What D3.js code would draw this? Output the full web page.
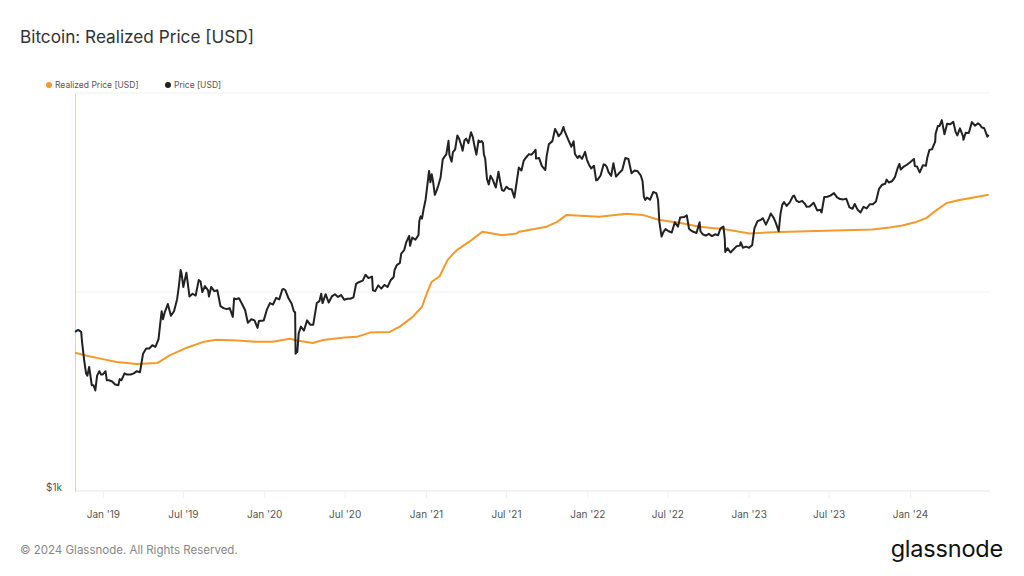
<!DOCTYPE html>
<html><head><meta charset="utf-8">
<script src="https://cdn.jsdelivr.net/npm/d3@7"></script>
<style>
html,body{margin:0;padding:0;background:#fff;}
svg{display:block;font-family:Inter,"Noto Sans",sans-serif;}
</style></head>
<body>
<svg id="c" width="1024" height="576"></svg>
<script>
const title = "Bitcoin: Realized Price [USD]";
const seriesNames = ["Realized Price [USD]", "Price [USD]"];
const yTickValues = [1000];
const yTickLabels = ["$1k"];
const xTickDates = ["2019-01-01","2019-07-01","2020-01-01","2020-07-01","2021-01-01","2021-07-01","2022-01-01","2022-07-01","2023-01-01","2023-07-01","2024-01-01"];
const xTickLabels = ["Jan '19","Jul '19","Jan '20","Jul '20","Jan '21","Jul '21","Jan '22","Jul '22","Jan '23","Jul '23","Jan '24"];
const xDomain = ["2018-10-30","2024-06-30"];
const yDomain = [1000, 100000];

const realizedData = [
["2018-10-30",4950],["2018-12-01",4750],["2019-01-01",4600],["2019-02-01",4450],["2019-03-19",4350],
["2019-05-05",4400],["2019-06-01",4800],["2019-07-10",5250],["2019-08-15",5600],["2019-09-15",5750],
["2019-11-01",5700],["2019-12-15",5620],["2020-01-20",5620],["2020-02-28",5820],["2020-03-15",5700],
["2020-04-20",5540],["2020-05-13",5740],["2020-07-01",5900],["2020-07-29",5950],["2020-08-27",6250],
["2020-10-11",6300],["2020-11-03",6700],["2020-12-02",7500],["2020-12-23",8430],["2021-01-03",9870],
["2021-01-14",11260],["2021-02-01",12000],["2021-02-19",14500],["2021-03-11",16200],["2021-04-09",17900],
["2021-05-09",20100],["2021-05-25",19800],["2021-06-23",19300],["2021-07-25",19700],["2021-07-31",20100],
["2021-10-01",21300],["2021-10-25",22500],["2021-11-15",24400],["2022-01-28",23900],["2022-03-31",24700],
["2022-05-06",24400],["2022-06-13",23000],["2022-07-28",22300],["2022-09-12",21300],["2022-11-12",20600],
["2023-01-03",19700],["2023-03-12",20000],["2023-06-25",20300],["2023-10-08",20600],["2023-11-16",21100],
["2023-12-15",21600],["2024-01-15",22500],["2024-02-07",23500],["2024-03-01",25800],["2024-03-24",28000],
["2024-04-22",29000],["2024-05-30",30000],["2024-06-27",30800]
];

const priceData = [
["2018-10-30",6300],["2018-11-06",6450],["2018-11-13",6300],["2018-11-15",5600],["2018-11-20",4500],["2018-11-24",3900],["2018-11-27",3800],
["2018-12-01",4200],["2018-12-07",3400],["2018-12-11",3400],["2018-12-15",3200],["2018-12-19",3800],["2018-12-24",4000],["2018-12-28",3850],
["2019-01-01",3850],["2019-01-07",4000],["2019-01-10",3600],["2019-01-15",3600],["2019-01-22",3550],["2019-01-29",3430],["2019-02-05",3400],
["2019-02-08",3650],["2019-02-12",3600],["2019-02-19",3900],["2019-02-24",3850],["2019-03-05",3850],["2019-03-12",3900],["2019-03-19",4000],
["2019-03-26",3950],["2019-04-02",4900],["2019-04-09",5200],["2019-04-16",5200],["2019-04-23",5400],["2019-04-30",5300],["2019-05-07",5800],
["2019-05-11",7000],["2019-05-14",8000],["2019-05-17",7300],["2019-05-21",7900],["2019-05-28",8700],["2019-06-04",7600],["2019-06-11",8000],
["2019-06-18",9200],["2019-06-22",10700],["2019-06-26",12900],["2019-06-28",12400],["2019-07-02",10600],["2019-07-09",12500],["2019-07-16",9500],
["2019-07-23",9800],["2019-07-30",9600],["2019-08-06",11500],["2019-08-10",11300],["2019-08-14",10000],["2019-08-20",10700],["2019-08-27",10200],
["2019-08-29",9500],["2019-09-03",10600],["2019-09-10",10100],["2019-09-17",10200],["2019-09-24",8500],["2019-10-01",8300],["2019-10-08",8200],
["2019-10-15",8300],["2019-10-22",7500],["2019-10-25",9300],["2019-10-29",9200],["2019-11-05",9300],["2019-11-12",8700],["2019-11-19",8100],
["2019-11-25",7000],["2019-12-03",7300],["2019-12-10",7200],["2019-12-17",6600],["2019-12-20",7150],["2019-12-31",7200],
["2020-01-07",8150],["2020-01-14",8800],["2020-01-21",8650],["2020-01-28",9350],["2020-02-04",9180],["2020-02-11",10300],["2020-02-14",10350],
["2020-02-18",10200],["2020-02-25",9300],["2020-03-03",8750],["2020-03-08",8000],["2020-03-11",7900],["2020-03-12",4900],["2020-03-16",5000],
["2020-03-19",6200],["2020-03-24",6700],["2020-03-31",6400],["2020-04-07",7200],["2020-04-14",6850],["2020-04-21",6850],["2020-04-29",8800],
["2020-05-05",9000],["2020-05-09",9800],["2020-05-12",8800],["2020-05-19",9750],["2020-05-26",8850],["2020-06-02",9500],["2020-06-09",9750],
["2020-06-16",9450],["2020-06-23",9650],["2020-06-30",9150],["2020-07-07",9250],["2020-07-14",9250],["2020-07-21",9400],["2020-07-27",11000],
["2020-08-02",11200],["2020-08-11",11400],["2020-08-17",12200],["2020-08-24",11750],["2020-09-01",11950],["2020-09-03",10200],["2020-09-08",10100],
["2020-09-15",10800],["2020-09-22",10400],["2020-09-29",10850],["2020-10-06",10600],["2020-10-13",11450],["2020-10-20",11900],["2020-10-22",12900],
["2020-10-27",13650],["2020-11-03",14000],["2020-11-06",15600],["2020-11-13",16300],["2020-11-17",17700],["2020-11-24",19150],["2020-11-26",17100],
["2020-12-01",18800],["2020-12-08",18300],["2020-12-15",19300],["2020-12-17",22800],["2020-12-20",24000],["2020-12-23",23400],["2020-12-27",26300],
["2020-12-31",29000],["2021-01-03",32800],["2021-01-08",40600],["2021-01-11",35600],["2021-01-14",39100],["2021-01-17",36000],["2021-01-21",30800],
["2021-01-25",32300],["2021-01-29",34300],["2021-02-03",37600],["2021-02-08",46400],["2021-02-12",47900],["2021-02-16",49200],["2021-02-21",57500],
["2021-02-23",48800],["2021-02-28",45200],["2021-03-03",50500],["2021-03-08",52000],["2021-03-13",61200],["2021-03-17",58900],["2021-03-22",54500],
["2021-03-25",51300],["2021-03-29",57700],["2021-04-02",59000],["2021-04-07",56000],["2021-04-13",63500],["2021-04-17",60000],["2021-04-21",53800],
["2021-04-25",49000],["2021-04-30",57800],["2021-05-03",56600],["2021-05-07",57400],["2021-05-10",56000],["2021-05-12",49200],["2021-05-15",46700],
["2021-05-19",37000],["2021-05-23",34700],["2021-05-27",38400],["2021-06-01",36700],["2021-06-08",33500],["2021-06-14",40200],["2021-06-18",35800],
["2021-06-22",32500],["2021-06-26",32200],["2021-07-02",33800],["2021-07-08",32900],["2021-07-14",32800],["2021-07-20",29800],["2021-07-25",35400],
["2021-07-30",42200],["2021-08-05",40800],["2021-08-10",45600],["2021-08-14",47000],["2021-08-22",49300],["2021-08-28",49000],["2021-09-06",51800],
["2021-09-07",46800],["2021-09-14",47100],["2021-09-20",43000],["2021-09-28",41000],["2021-10-01",48200],["2021-10-06",55300],["2021-10-14",57300],
["2021-10-20",65900],["2021-10-25",63000],["2021-10-28",60600],["2021-11-03",62900],["2021-11-08",67500],["2021-11-10",64900],["2021-11-16",60300],
["2021-11-19",58100],["2021-11-26",53700],["2021-12-01",57200],["2021-12-04",49400],["2021-12-10",47100],["2021-12-14",48400],["2021-12-20",46700],
["2021-12-27",50600],["2021-12-31",46300],["2022-01-05",43500],["2022-01-10",41800],["2022-01-16",43100],["2022-01-21",36400],["2022-01-24",36600],
["2022-01-31",38500],["2022-02-07",43800],["2022-02-10",43600],["2022-02-14",42500],["2022-02-18",40000],["2022-02-24",38300],["2022-03-01",44400],
["2022-03-07",38000],["2022-03-14",39600],["2022-03-21",41000],["2022-03-28",47100],["2022-04-04",46600],["2022-04-11",39500],["2022-04-18",40800],
["2022-04-25",40400],["2022-05-02",38500],["2022-05-06",36000],["2022-05-09",30100],["2022-05-12",29000],["2022-05-16",29800],["2022-05-23",29100],
["2022-05-30",31800],["2022-06-06",31400],["2022-06-10",29100],["2022-06-13",22500],["2022-06-18",19000],["2022-06-22",20000],["2022-06-27",20700],
["2022-07-04",20200],["2022-07-11",19900],["2022-07-18",22400],["2022-07-25",21300],["2022-07-30",23700],["2022-08-08",23800],["2022-08-14",24300],
["2022-08-19",20800],["2022-08-26",20200],["2022-09-05",19800],["2022-09-12",22400],["2022-09-14",20200],["2022-09-19",19500],["2022-09-26",19200],
["2022-10-03",19600],["2022-10-10",19100],["2022-10-17",19500],["2022-10-24",19300],["2022-10-29",20800],["2022-11-05",21300],["2022-11-08",18500],
["2022-11-09",15900],["2022-11-14",16600],["2022-11-21",15800],["2022-11-28",16400],["2022-12-05",17000],["2022-12-12",17100],["2022-12-14",17800],
["2022-12-19",16700],["2022-12-26",16900],["2023-01-02",16700],["2023-01-09",17200],["2023-01-14",20900],["2023-01-21",22700],["2023-01-28",23000],
["2023-02-02",23500],["2023-02-09",21800],["2023-02-16",23500],["2023-02-20",24800],["2023-02-27",23500],["2023-03-03",22400],["2023-03-10",20200],
["2023-03-14",24700],["2023-03-18",27400],["2023-03-22",28300],["2023-03-28",27100],["2023-04-04",28200],["2023-04-11",30300],["2023-04-14",30500],
["2023-04-19",28800],["2023-04-25",28300],["2023-05-02",28700],["2023-05-09",27600],["2023-05-12",26800],["2023-05-19",26900],["2023-05-28",28100],
["2023-06-05",25700],["2023-06-12",25900],["2023-06-15",25100],["2023-06-21",30000],["2023-06-28",30100],["2023-07-05",30500],["2023-07-13",31400],
["2023-07-20",29900],["2023-07-27",29300],["2023-08-03",29200],["2023-08-10",29400],["2023-08-17",26600],["2023-08-24",26200],["2023-08-29",27700],
["2023-09-05",25800],["2023-09-11",25100],["2023-09-18",26800],["2023-09-25",26300],["2023-10-02",27600],["2023-10-09",27600],["2023-10-16",28500],
["2023-10-23",33000],["2023-10-30",34600],["2023-11-06",35000],["2023-11-09",36700],["2023-11-14",35500],["2023-11-21",36000],["2023-11-28",37800],
["2023-12-04",41900],["2023-12-08",44000],["2023-12-11",41200],["2023-12-18",42700],["2023-12-25",43600],["2024-01-02",45000],["2024-01-10",46600],
["2024-01-12",42900],["2024-01-17",42700],["2024-01-23",39900],["2024-01-30",43300],["2024-02-06",43100],["2024-02-09",47100],["2024-02-14",51800],
["2024-02-20",52200],["2024-02-27",57000],["2024-02-28",62500],["2024-03-04",68300],["2024-03-08",68300],["2024-03-13",73100],["2024-03-19",62000],
["2024-03-25",70000],["2024-04-01",69600],["2024-04-08",71600],["2024-04-13",64000],["2024-04-17",61200],["2024-04-23",66400],["2024-04-30",60600],
["2024-05-01",58200],["2024-05-06",63100],["2024-05-13",62900],["2024-05-20",71400],["2024-05-27",68500],["2024-06-03",70500],["2024-06-07",69300],
["2024-06-11",67300],["2024-06-17",66500],["2024-06-24",60300],["2024-06-27",61600]
];

const colors = {realized:"#f39a2b", price:"#222222"};

const svg = d3.select("#c");
const parse = d3.utcParse("%Y-%m-%d");
const m = {left:75, right:990, top:93, bottom:491};

const x = d3.scaleUtc().domain(xDomain.map(parse)).range([m.left, m.right]);
const y = d3.scaleLog().domain(yDomain).range([m.bottom, m.top]);

// title
svg.append("text").attr("x",20).attr("y",43).text(title)
  .attr("font-size",17.2).attr("fill","#333").attr("font-weight",400);

// legend
const leg = svg.append("g").attr("font-size",8.5).attr("fill","#555");
leg.append("circle").attr("cx",49).attr("cy",85).attr("r",3).attr("fill",colors.realized);
leg.append("text").attr("x",55).attr("y",88).text(seriesNames[0]).attr("fill","#555");
leg.append("circle").attr("cx",168).attr("cy",85).attr("r",3).attr("fill",colors.price);
leg.append("text").attr("x",174).attr("y",88).text(seriesNames[1]).attr("fill","#555");

// gridlines (log decades)
const grid = [1000,10000,100000];
svg.append("g").selectAll("line").data(grid).join("line")
  .attr("x1",m.left).attr("x2",m.right)
  .attr("y1",d=>y(d)).attr("y2",d=>y(d))
  .attr("stroke",d=>d===1000?"#e6e6e6":"#f1f1f1").attr("stroke-width",1);

// x axis
const xa = svg.append("g").attr("transform",`translate(0,${m.bottom})`)
  .call(d3.axisBottom(x).tickValues(xTickDates.map(parse)).tickSize(7).tickPadding(13)
    .tickFormat((d,i)=>xTickLabels[i]));
xa.select(".domain").remove();
xa.selectAll(".tick line").attr("stroke","#f0f0f0");
xa.selectAll(".tick text").attr("fill","#555").attr("font-size",10).attr("font-family","Inter,'Noto Sans',sans-serif");

// y axis
const ya = svg.append("g").attr("transform",`translate(${m.left},0)`)
  .call(d3.axisLeft(y).tickValues(yTickValues).tickSize(0).tickPadding(13)
    .tickFormat((d,i)=>yTickLabels[i]));
ya.select(".domain").attr("stroke","#f9cc94").attr("stroke-width",1);
ya.selectAll(".tick text").attr("fill","#555").attr("font-size",10).attr("dy","-0.05em")
  .attr("font-family","Inter,'Noto Sans',sans-serif");

// lines
const line = d3.line().x(d=>x(parse(d[0]))).y(d=>y(d[1])).curve(d3.curveLinear);
svg.append("path").datum(realizedData).attr("d",line)
  .attr("fill","none").attr("stroke",colors.realized).attr("stroke-width",2).attr("stroke-linejoin","round");
svg.append("path").datum(priceData).attr("d",line)
  .attr("fill","none").attr("stroke",colors.price).attr("stroke-width",2).attr("stroke-linejoin","round");

// footer
svg.append("text").attr("x",20).attr("y",554).text("© 2024 Glassnode. All Rights Reserved.")
  .attr("font-size",11.5).attr("fill","#888");
svg.append("text").attr("x",1003).attr("y",557).attr("text-anchor","end").text("glassnode")
  .attr("font-size",23.5).attr("fill","#111").attr("font-weight",400).attr("letter-spacing","-0.2");
</script>
</body></html>
